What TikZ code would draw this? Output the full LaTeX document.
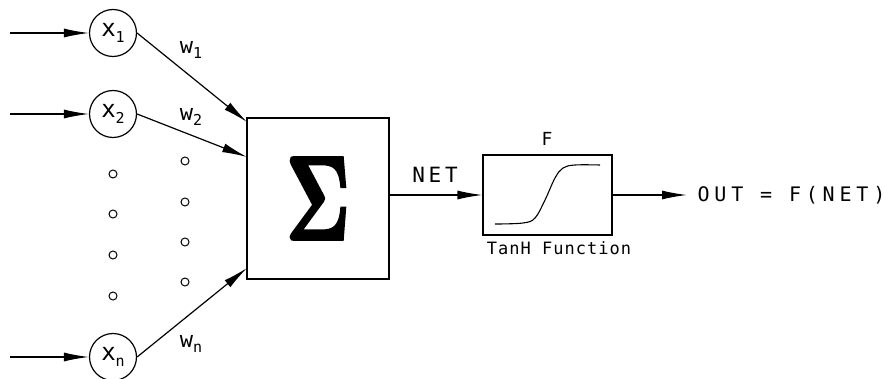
\documentclass[tikz,border=0pt]{standalone}
\usepackage[no-math]{fontspec}
\setmainfont{DejaVu Sans Mono}[LetterSpace=18]
\usetikzlibrary{arrows.meta}
\newcommand{\fs}[1]{\fontsize{#1}{#1}\selectfont}
\begin{document}
\begin{tikzpicture}[x=1pt,y=-1pt,line width=1.2pt,
  arr/.style={-{Latex[length=25pt,width=9pt]}},
  inp/.style={circle,draw,minimum size=47pt,inner sep=0pt,font=\fs{24}},
  dot/.style={circle,draw,line width=1pt,minimum size=8pt,inner sep=0pt},
  wl/.style={inner sep=0pt,font=\fs{22}}]
\useasboundingbox (0,0) rectangle (885,379);

% inputs
\node[inp] (x1) at (113,33) {x\raisebox{-6pt}{\fs{15}1}};
\node[inp] (x2) at (113,114) {x\raisebox{-6pt}{\fs{15}2}};
\node[inp] (xn) at (113,357) {x\raisebox{-6pt}{\fs{15}n}};
\coordinate (i1) at (10,33);
\coordinate (i2) at (10,114);
\coordinate (in) at (10,357);
\draw[arr] (i1) -- (x1);
\draw[arr] (i2) -- (x2);
\draw[arr] (in) -- (xn);

% summation box
\node[draw,minimum width=142pt,minimum height=161pt,inner sep=0pt] (sum) at (318,198.5)
  {\resizebox{64pt}{81pt}{\special{pdf:literal direct 0.3 w 2 Tr}$\mathbf{\Sigma}$\special{pdf:literal direct 0 Tr}}};
\coordinate (t1) at (247,122);
\coordinate (t2) at (247,157);
\coordinate (tn) at (247,268);
\draw[arr] (x1.east) -- (t1);
\draw[arr] (x2.east) -- (t2);
\draw[arr] (xn.east) -- (tn);

% weights
\node[wl] (w1) at (191,50) {w\raisebox{-5pt}{\fs{15}1}};
\node[wl] (w2) at (191,117) {w\raisebox{-5pt}{\fs{15}2}};
\node[wl] (wn) at (191,344) {w\raisebox{-5pt}{\fs{15}n}};

% dots
\foreach \yy [count=\i] in {174,214,255,296} \node[dot] (dl\i) at (113,\yy) {};
\foreach \yy [count=\i] in {161,202,242,282} \node[dot] (dr\i) at (185,\yy) {};

% activation box
\node[draw,minimum width=129pt,minimum height=80pt,inner sep=0pt] (fbox) at (547.5,195) {};
\node[font=\fs{18}] (flab) at (547,139) {F};
\node[font=\fs{17}\addfontfeatures{LetterSpace=6}] (tanh) at (559,248) {TanH Function};
\draw[line width=1.1pt] plot[smooth,tension=0.6] coordinates
  {(495,224) (523,223) (535,218) (545,200) (555,178) (563,168) (575,165) (600,165)};

% NET
\draw[arr] (sum.east |- fbox.west) -- (fbox.west);
\node[font=\fs{21}] (net) at (435,175) {NET};

% output
\node[anchor=west,inner xsep=10pt,inner ysep=0pt,font=\fs{20}\addfontfeatures{LetterSpace=24}] (out) at (687,195) {OUT = F(NET)};
\draw[arr] (fbox.east) -- (out.west);
\end{tikzpicture}
\end{document}
